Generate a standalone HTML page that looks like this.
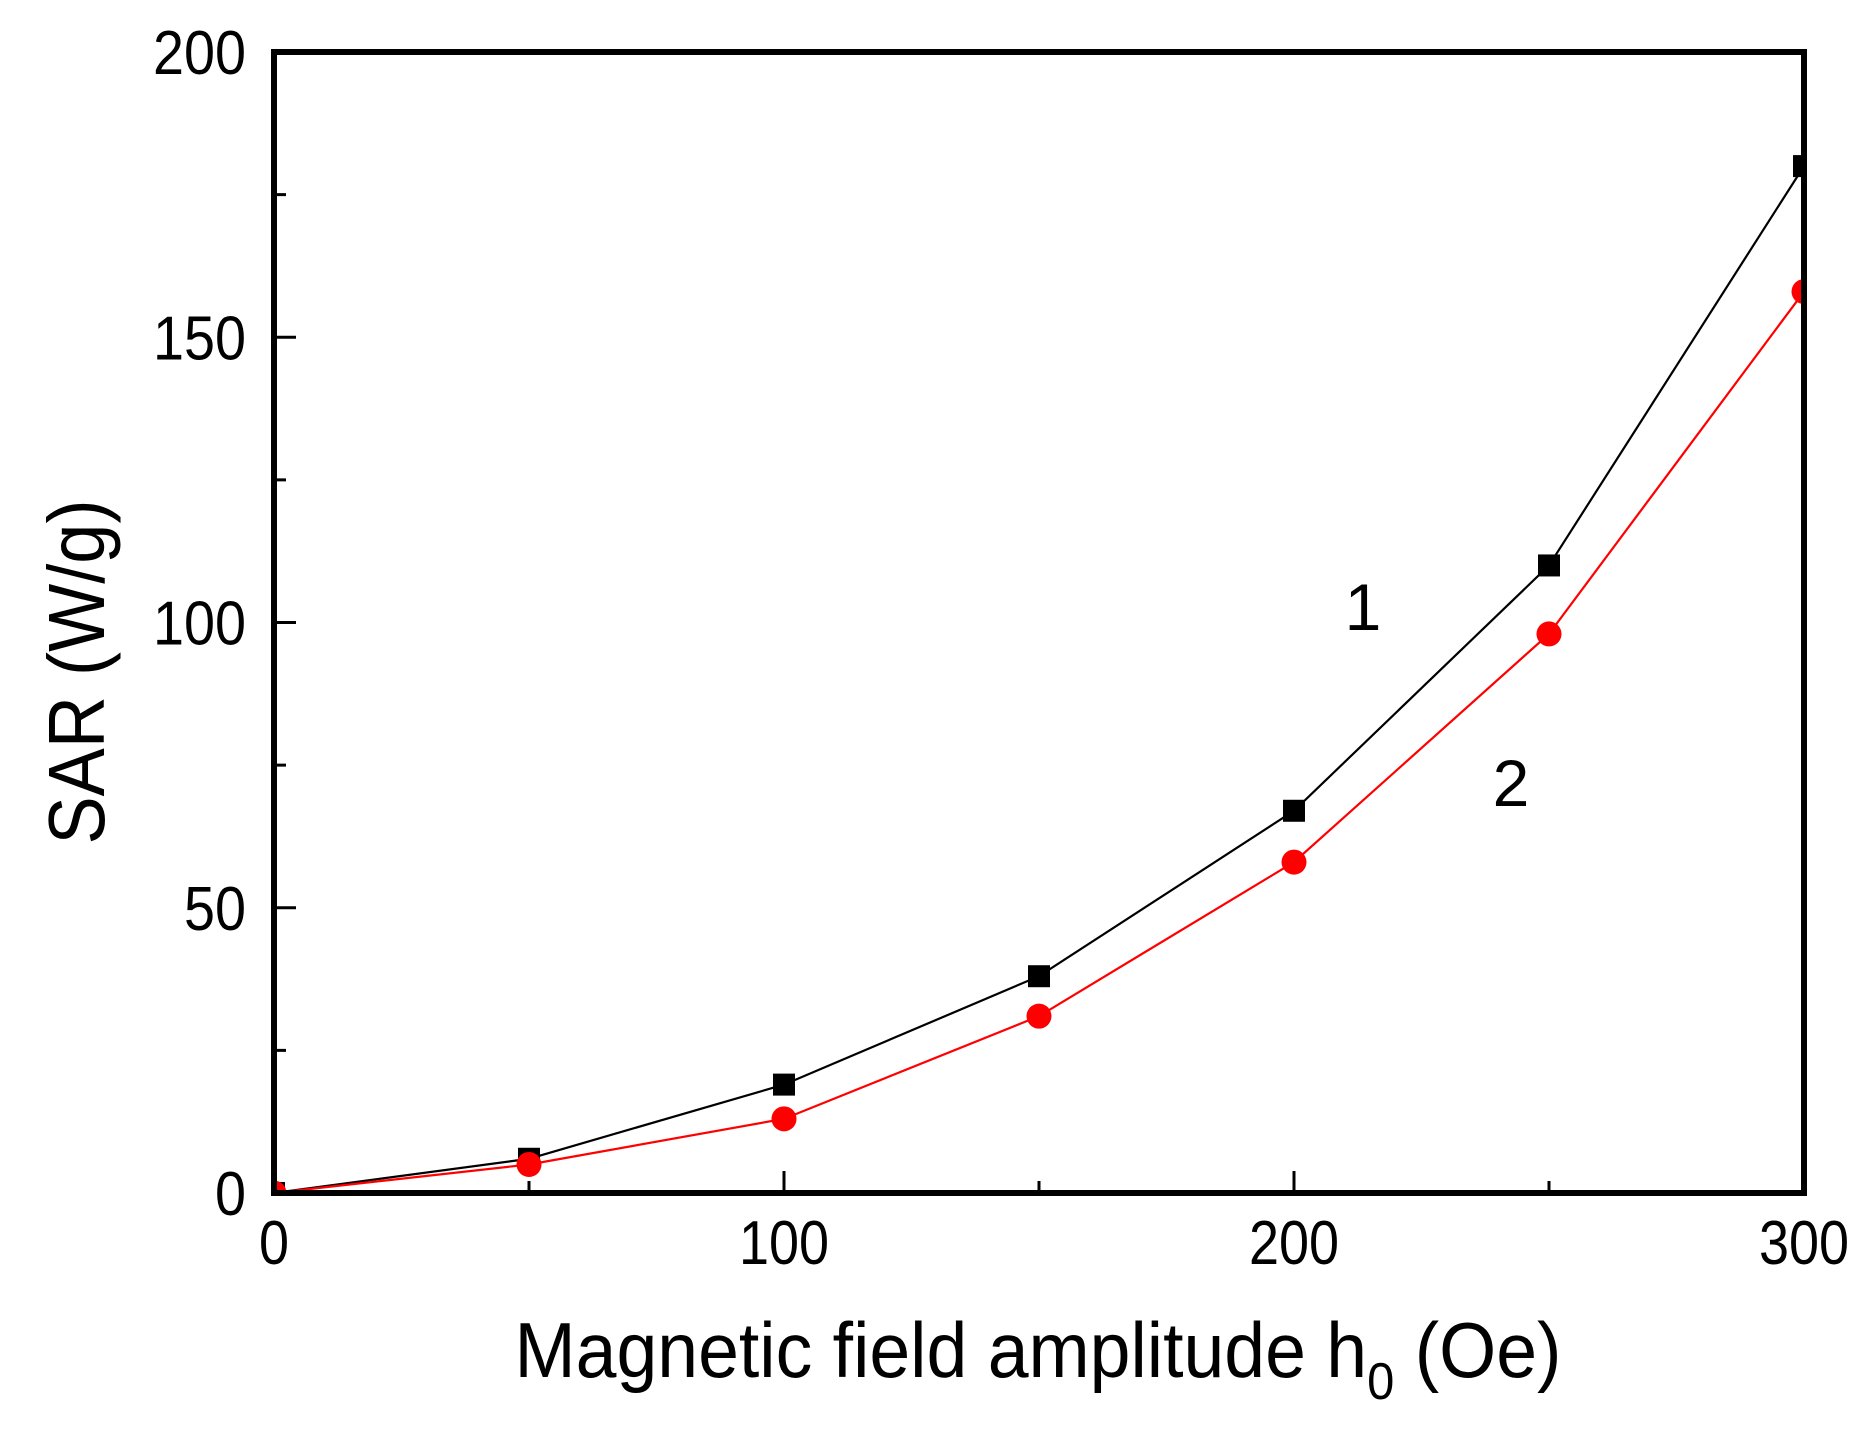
<!DOCTYPE html>
<html><head><meta charset="utf-8"><style>
html,body{margin:0;padding:0;background:#fff;}
svg{display:block;font-family:"Liberation Sans",Arial,sans-serif;}
</style></head><body>
<svg id="chart" width="1866" height="1444" viewBox="0 0 1866 1444">
<defs><clipPath id="clip"><rect x="274" y="52" width="1530" height="1141"/></clipPath></defs>
<g id="plot" clip-path="url(#clip)"></g>
<g id="axes"></g>
<text x="1038" y="1377" font-size="78" text-anchor="middle" textLength="1047" lengthAdjust="spacingAndGlyphs">Magnetic field amplitude h<tspan font-size="52" dy="22">0</tspan><tspan dy="-22"> (Oe)</tspan></text>
<text transform="translate(104,672) rotate(-90)" font-size="80" text-anchor="middle" textLength="345" lengthAdjust="spacingAndGlyphs">SAR (W/g)</text>
<text x="1363" y="630" font-size="66" text-anchor="middle">1</text>
<text x="1511" y="806" font-size="66" text-anchor="middle">2</text>
</svg>
<script>
const xValues = [0, 50, 100, 150, 200, 250, 300];
const series1 = [0, 6, 19, 38, 67, 110, 180];
const series2 = [0, 5, 13, 31, 58, 98, 158];
const xTickLabels = ["0", "100", "200", "300"];
const yTickLabels = ["0", "50", "100", "150", "200"];

const L=274,R=1804,T=52,B=1193;
const xs=v=>L+(v/300)*(R-L);
const ys=v=>B-(v/200)*(B-T);
const NS="http://www.w3.org/2000/svg";
const plot=document.getElementById('plot'), axes=document.getElementById('axes');
function mk(tag,attrs,parent){const e=document.createElementNS(NS,tag);for(const k in attrs)e.setAttribute(k,attrs[k]);parent.appendChild(e);return e;}

function drawSeries(vals,color,shape,name){
  const pts=xValues.map((x,i)=>xs(x)+','+ys(vals[i])).join(' ');
  const pl=mk('polyline',{points:pts,fill:'none',stroke:color,'stroke-width':2.2},plot);
  
  
  xValues.forEach((x,i)=>{
    let m;
    if(shape==='square'){m=mk('rect',{x:xs(x)-11,y:ys(vals[i])-11,width:22,height:22,fill:color},plot);}
    else{m=mk('circle',{cx:xs(x),cy:ys(vals[i]),r:12.5,fill:color},plot);}
    
    
  });
}
drawSeries(series1,'#000','square','series-1');
drawSeries(series2,'#ff0000','circle','series-2');

const fr=mk('rect',{x:L,y:T,width:R-L,height:B-T,fill:'none',stroke:'#000','stroke-width':6},axes);


for(let v=0;v<=200;v+=25){
  const major=v%50===0;
  const t=mk('line',{x1:L,x2:L+(major?22:12),y1:ys(v),y2:ys(v),stroke:'#000','stroke-width':3},axes);
  
  
}
yTickLabels.forEach(s=>{
  const v=parseFloat(s);
  const t=mk('text',{x:246,y:ys(v)+22,'font-size':62,'text-anchor':'end',textLength:s.length*31,lengthAdjust:'spacingAndGlyphs'},axes);
  t.textContent=s;
  
  
});
for(let v=0;v<=300;v+=50){
  const major=v%100===0;
  const t=mk('line',{x1:xs(v),x2:xs(v),y1:B,y2:B-(major?22:12),stroke:'#000','stroke-width':3},axes);
  
  
}
xTickLabels.forEach(s=>{
  const v=parseFloat(s);
  const t=mk('text',{x:xs(v),y:1264,'font-size':62,'text-anchor':'middle',textLength:s.length*30,lengthAdjust:'spacingAndGlyphs'},axes);
  t.textContent=s;
  
  
});
</script>
</body></html>
